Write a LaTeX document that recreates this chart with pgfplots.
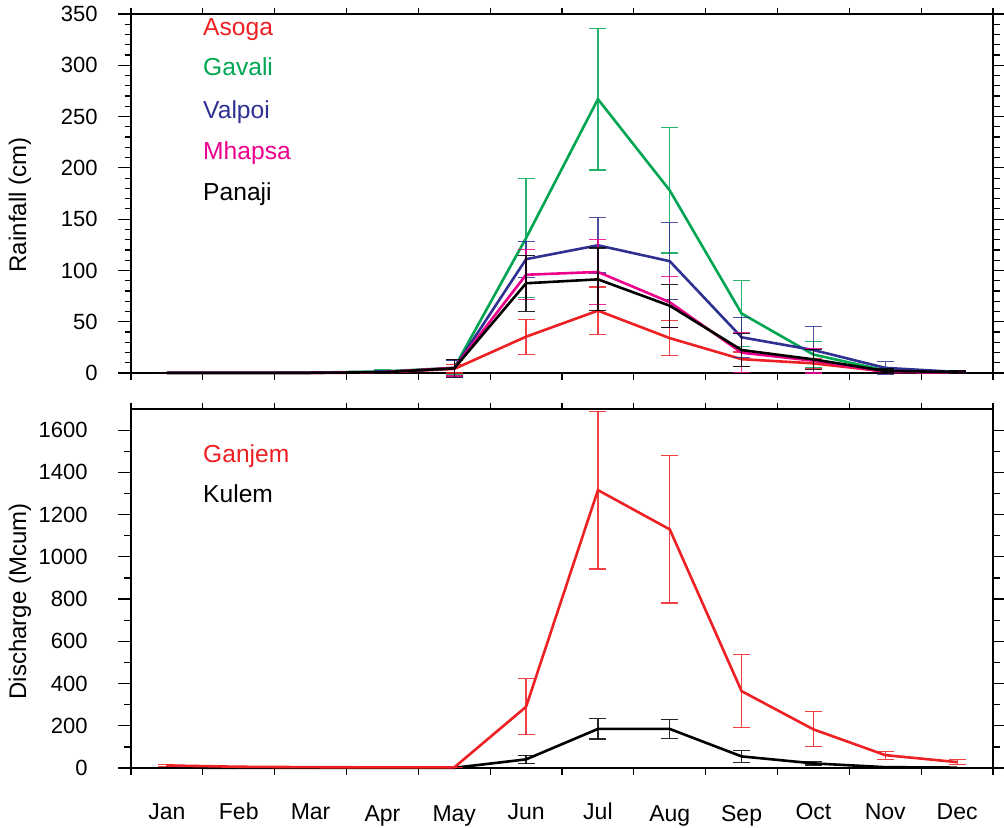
\documentclass[border=0pt]{standalone}
\usepackage{fontspec}
\setmainfont{Liberation Sans}
\usepackage{pgfplots}
\pgfplotsset{compat=1.18}
\definecolor{cred}{RGB}{237,32,36}
\definecolor{cgreen}{RGB}{0,166,81}
\definecolor{cblue}{RGB}{46,49,146}
\definecolor{cmag}{RGB}{236,0,140}
\tikzset{legtext/.style={anchor=base west, inner sep=0pt, font=\fontsize{12.3}{14}\selectfont}}
\pgfplotsset{
 myaxis/.style={
  scale only axis, width=431pt, height=179.5pt,
  anchor=south west,
  xmin=0.5, xmax=12.5,
  xtick={1,...,12},
  minor xtick={0.5,1.5,...,12.5},
  major x tick style={draw=none},
  tick align=outside,
  major tick length=6.5pt, minor tick length=3.25pt,
  axis line style={line width=0.6pt},
  every tick/.style={black, line width=0.6pt},
  /pgf/number format/assume math mode=true,
  /pgf/number format/1000 sep={},
  tick label style={font=\fontsize{11}{13}\selectfont},
  yticklabel style={anchor=east, inner sep=0pt},
  label style={font=\fontsize{12}{14}\selectfont},
  clip=false,
  error bars/y dir=both, error bars/y explicit,
  error bars/error bar style={line width=0.6pt, opacity=0.85},
  error bars/error mark options={rotate=90, mark size=4.25pt, line width=0.6pt, opacity=0.85},
  every axis plot/.append style={line width=1.3pt, mark=none},
 },
}
\begin{document}
\begin{tikzpicture}
\path[use as bounding box] (0,0) rectangle (502pt,413.5pt);
% ---------- Top: rainfall ----------
\begin{axis}[myaxis, at={(65.5pt,227pt)},
  ymin=0, ymax=350, ytick={0,50,...,350}, minor y tick num=4,
  xticklabels={},
  yticklabel shift=10pt,
  ylabel={Rainfall (cm)},
  ylabel style={at={(axis description cs:-0.1288,0.468)}, anchor=center},
]
\addplot[cred] coordinates {
 (1,0.2) +- (0,0.2) (2,0.1) +- (0,0.1) (3,0.1) +- (0,0.1) (4,0.5) +- (0,0.5)
 (5,4) +- (0,4) (6,35.4) +- (0,17) (7,60.8) +- (0,23) (8,34) +- (0,17)
 (9,13.5) +- (0,7) (10,9.4) +- (0,5) (11,1.5) +- (0,1.5) (12,1) +- (0,1)};
\addplot[cgreen] coordinates {
 (1,0.1) +- (0,0.2) (2,0.1) +- (0,0.1) (3,0.3) +- (0,0.3) (4,1.5) +- (0,1.5)
 (5,5) +- (0,7) (6,131.6) +- (0,58) (7,267) +- (0,69) (8,178) +- (0,61)
 (9,58) +- (0,32) (10,18) +- (0,13) (11,2.5) +- (0,2) (12,0.8) +- (0,0.8)};
\addplot[cblue] coordinates {
 (1,0.1) +- (0,0.1) (2,0.1) +- (0,0.1) (3,0.3) +- (0,0.3) (4,1) +- (0,1)
 (5,4.5) +- (0,8) (6,111) +- (0,17.5) (7,124.5) +- (0,27) (8,109) +- (0,37.5)
 (9,34.8) +- (0,19.5) (10,22.4) +- (0,23) (11,5) +- (0,6) (12,1) +- (0,1)};
\addplot[cmag] coordinates {
 (1,0.1) +- (0,0.1) (2,0.1) +- (0,0.1) (3,0.2) +- (0,0.2) (4,0.8) +- (0,0.8)
 (5,5) +- (0,8) (6,95.8) +- (0,24.4) (7,98.5) +- (0,32) (8,69) +- (0,25)
 (9,19.8) +- (0,19.5) (10,12) +- (0,12) (11,1) +- (0,1.5) (12,0.5) +- (0,0.5)};
\addplot[black] coordinates {
 (1,0.1) +- (0,0.1) (2,0.1) +- (0,0.1) (3,0.2) +- (0,0.2) (4,0.7) +- (0,0.7)
 (5,4.6) +- (0,8.6) (6,87.5) +- (0,27.3) (7,91.3) +- (0,30.5) (8,65.6) +- (0,21)
 (9,22.4) +- (0,16) (10,13.3) +- (0,10) (11,2) +- (0,2) (12,1) +- (0,1)};
\node[legtext, text=cred]   at (axis cs:1.5,328.9) {Asoga};
\node[legtext, text=cgreen] at (axis cs:1.5,290.5) {Gavali};
\node[legtext, text=cblue]  at (axis cs:1.5,248.3) {Valpoi};
\node[legtext, text=cmag]   at (axis cs:1.5,207.7) {Mhapsa};
\node[legtext, text=black]  at (axis cs:1.5,168) {Panaji};
\end{axis}
% ---------- Bottom: discharge ----------
\begin{axis}[myaxis, at={(65.5pt,29.5pt)},
  ymin=0, ymax=1700, ytick={0,200,...,1600}, minor y tick num=1,
  xticklabels={Jan,Feb,Mar,{\raisebox{-1.25pt}{Apr}},{\raisebox{-1.25pt}{May}},Jun,Jul,{\raisebox{-1.25pt}{Aug}},{\raisebox{-1.25pt}{Sep}},Oct,Nov,Dec},
  xticklabel style={anchor=base, inner sep=0pt, font=\fontsize{11.5}{13}\selectfont},
  xticklabel shift=19pt,
  yticklabel shift=15pt,
  ylabel={Discharge (Mcum)},
  ylabel style={at={(axis description cs:-0.1288,0.464)}, anchor=center},
]
\addplot[black] coordinates {
 (1,2) +- (0,2) (2,1) +- (0,1) (3,1) +- (0,1) (4,1) +- (0,1)
 (5,1) +- (0,1) (6,41) +- (0,20) (7,185) +- (0,48) (8,185) +- (0,45)
 (9,55) +- (0,27) (10,22) +- (0,8) (11,4) +- (0,3) (12,2) +- (0,2)};
\addplot[cred] coordinates {
 (1,12) +- (0,5) (2,6) +- (0,2) (3,4) +- (0,1) (4,3) +- (0,1)
 (5,3) +- (0,1) (6,290) +- (0,133) (7,1316) +- (0,374) (8,1130) +- (0,349)
 (9,364) +- (0,172) (10,183) +- (0,83) (11,61) +- (0,19) (12,28) +- (0,12)};
\node[legtext, text=cred]  at (axis cs:1.5,1445) {Ganjem};
\node[legtext, text=black] at (axis cs:1.5,1256) {Kulem};
\end{axis}
\end{tikzpicture}
\end{document}
